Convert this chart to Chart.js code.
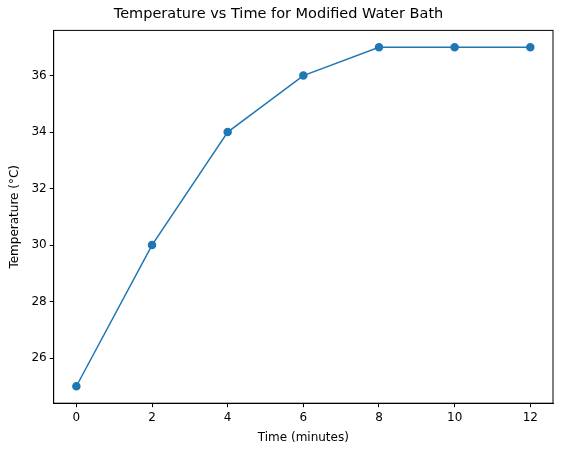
<!DOCTYPE html>
<html><head><script src="https://cdn.jsdelivr.net/npm/chart.js"></script>
<style>body{margin:0;background:#fff}#w{width:562px;height:455px}</style></head>
<body><div id="w"><canvas id="c"></canvas></div>
<script>
const times=[0,2,4,6,8,10,12];
const temps=[25,30,34,36,37,37,37];
const xTicks=[0,2,4,6,8,10,12];
const yTicks=[26,28,30,32,34,36];
const frame={id:'frame',afterDraw(ch){const a=ch.chartArea,c=ch.ctx;c.save();c.strokeStyle='#000';c.lineWidth=1;c.strokeRect(a.left,a.top,a.right-a.left,a.bottom-a.top);c.restore();}};
const font={family:'DejaVu Sans',size:12};
new Chart(document.getElementById('c'),{type:'line',
data:{datasets:[{data:times.map((t,i)=>({x:t,y:temps[i]})),borderColor:'#1f77b4',backgroundColor:'#1f77b4',borderWidth:1.5,pointRadius:3.5,pointHoverRadius:3.5,tension:0}]},
options:{responsive:true,maintainAspectRatio:false,animation:false,devicePixelRatio:1,
layout:{padding:{left:4,right:9,top:0,bottom:6}},
plugins:{legend:{display:false},tooltip:{enabled:false},title:{display:true,text:'Temperature vs Time for Modified Water Bath',color:'#000',font:{family:'DejaVu Sans',size:14.5,weight:'normal'},padding:{top:6,bottom:7}}},
scales:{
x:{type:'linear',min:-0.6,max:12.6,afterBuildTicks(s){s.ticks=xTicks.map(v=>({value:v}));},
grid:{drawOnChartArea:false,color:'#000',tickLength:4},border:{color:'#000'},
ticks:{color:'#000',font,padding:3},title:{display:true,text:'Time (minutes)',color:'#000',font:{family:'DejaVu Sans',size:12},padding:{top:3}}},
y:{min:24.4,max:37.6,afterBuildTicks(s){s.ticks=yTicks.map(v=>({value:v}));},
grid:{drawOnChartArea:false,color:'#000',tickLength:4},border:{color:'#000'},
ticks:{color:'#000',font,padding:3},title:{display:true,text:'Temperature (°C)',color:'#000',font:{family:'DejaVu Sans',size:12},padding:{bottom:6}}}}},
plugins:[frame]});
</script></body></html>
